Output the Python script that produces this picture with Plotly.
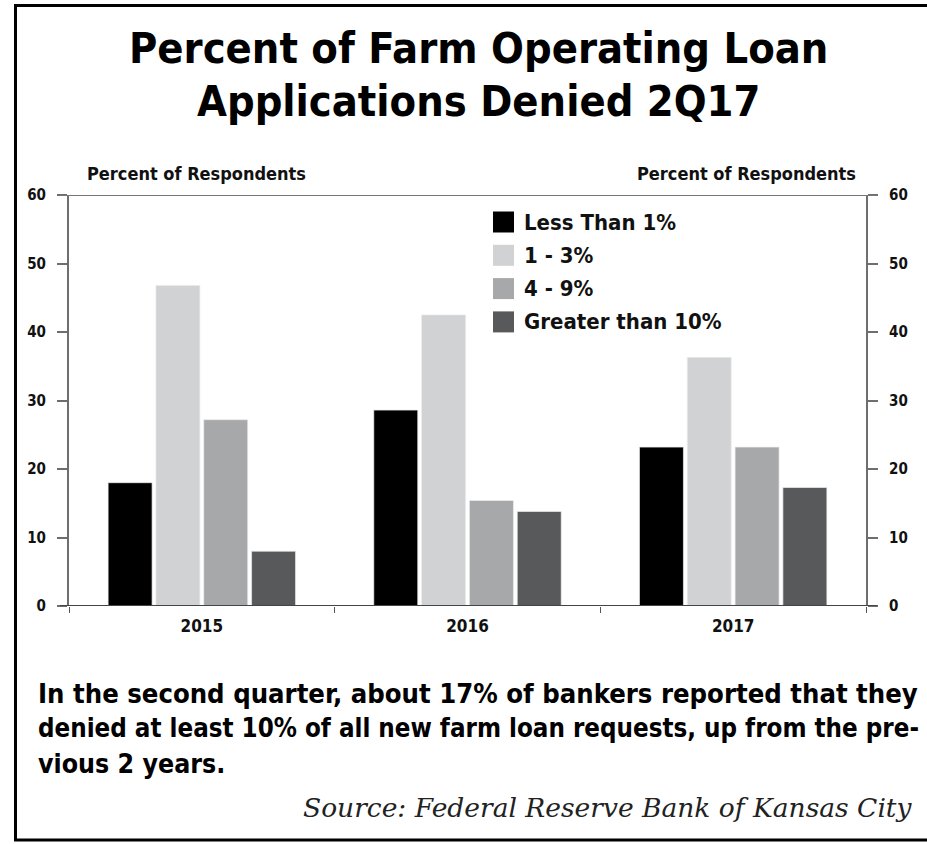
import plotly.graph_objects as go

# Survey results: share of bankers by percent of farm operating loan applications denied
years = ["2015", "2016", "2017"]
series_names = ["Less Than 1%", "1 - 3%", "4 - 9%", "Greater than 10%"]
less_than_1 = [18.0, 28.6, 23.2]
one_to_three = [46.8, 42.5, 36.3]
four_to_nine = [27.2, 15.4, 23.2]
greater_than_10 = [8.0, 13.8, 17.3]
series_values = [less_than_1, one_to_three, four_to_nine, greater_than_10]
y_ticks = [0, 10, 20, 30, 40, 50, 60]

colors = ["#000000", "#d1d2d4", "#a7a8aa", "#58595b"]
NARROW = "Liberation Sans Narrow, DejaVu Sans Condensed, Arial Narrow, sans-serif"
SERIF = "DejaVu Serif, Liberation Serif, serif"

W, H = 927, 844
L, R, T, B = 69, 61, 195, 238
PW, PH = W - L - R, H - T - B


def px(x):
    return (x - L) / PW


def py(y):
    return (H - B - y) / PH


fig = go.Figure()
for name, vals, col in zip(series_names, series_values, colors):
    fig.add_trace(go.Bar(
        x=years, y=vals, name=name, marker_color=col,
        marker_line_color="rgba(235,235,235,0.9)", marker_line_width=0.8,
        showlegend=False,
    ))
# carrier for the right-hand axis
fig.add_trace(go.Scatter(x=years, y=[None] * len(years), yaxis="y2",
                         showlegend=False, hoverinfo="skip"))

axis_common = dict(
    range=[0, 60], tickvals=y_ticks, ticks="outside", ticklen=10,
    tickwidth=1.5, tickcolor="#6d6e70", showline=True, linecolor="#6d6e70",
    linewidth=2, showgrid=False, zeroline=False,
    tickfont=dict(family=NARROW, size=15, color="#111", weight="bold"),
    ticklabelstandoff=8,
)

fig.update_layout(
    width=W, height=H,
    margin=dict(l=L, r=R, t=T, b=B),
    paper_bgcolor="white", plot_bgcolor="white",
    barmode="group", bargap=0.28, bargroupgap=0.08,
    xaxis=dict(
        type="category", tickson="boundaries", ticks="outside", ticklen=6,
        tickcolor="#555", showline=False, showgrid=False, zeroline=False,
        tickfont=dict(family=NARROW, size=17, color="#111", weight="bold"),
        ticklabelstandoff=8,
    ),
    yaxis=dict(**axis_common, side="left"),
    yaxis2=dict(**axis_common, side="right", overlaying="y"),
)

shapes = []
# baseline and top rule extending past both axes
for yv, col in [(0, "#444"), (60, "#777")]:
    shapes.append(dict(type="line", xref="paper", yref="y",
                       x0=px(60), x1=px(877), y0=yv, y1=yv,
                       line=dict(color=col, width=2)))
# outer frame
shapes.append(dict(type="rect", xref="paper", yref="paper",
                   x0=px(15.5), x1=px(940), y0=py(5.5), y1=py(840),
                   line=dict(color="black", width=3), fillcolor="rgba(0,0,0,0)",
                   layer="above"))

annotations = []
# legend drawn as swatches and labels
for i, (name, col) in enumerate(zip(series_names, colors)):
    cy = 222 + i * 33.3
    shapes.append(dict(type="rect", xref="paper", yref="paper",
                       x0=px(493), x1=px(514), y0=py(cy - 10.5), y1=py(cy + 10.5),
                       fillcolor=col, line=dict(width=0)))
    annotations.append(dict(xref="paper", yref="paper", x=px(522), y=py(cy),
                            xanchor="left", yanchor="middle", showarrow=False,
                            text=name,
                            font=dict(family=NARROW, size=22, color="#111", weight="bold")))

# title
for text, cy in [("Percent of Farm Operating Loan", 48), ("Applications Denied 2Q17", 101)]:
    annotations.append(dict(xref="paper", yref="paper", x=px(478), y=py(cy),
                            xanchor="center", yanchor="middle", showarrow=False,
                            text=text,
                            font=dict(family=NARROW, size=43, color="#000", weight=900)))

# axis captions
annotations.append(dict(xref="paper", yref="paper", x=px(85), y=py(173),
                        xanchor="left", yanchor="middle", showarrow=False,
                        text="Percent of Respondents",
                        font=dict(family=NARROW, size=18, color="#111", weight="bold")))
annotations.append(dict(xref="paper", yref="paper", x=px(858), y=py(173),
                        xanchor="right", yanchor="middle", showarrow=False,
                        text="Percent of Respondents",
                        font=dict(family=NARROW, size=18, color="#111", weight="bold")))

# commentary, sized per line so each line spans the text column
caption_lines = [
    ("In the second quarter, about 17% of bankers reported that they", 27.2),
    ("denied at least 10% of all new farm loan requests, up from the pre-", 25.7),
    ("vious 2 years.", 26.5),
]
for i, (line, size) in enumerate(caption_lines):
    annotations.append(dict(xref="paper", yref="paper", x=px(36), y=py(693 + i * 35),
                            xanchor="left", yanchor="middle", showarrow=False,
                            text=line,
                            font=dict(family=NARROW, size=size, color="#000", weight="bold")))

annotations.append(dict(xref="paper", yref="paper", x=px(915), y=py(807),
                        xanchor="right", yanchor="middle", showarrow=False,
                        text="Source: Federal Reserve Bank of Kansas City",
                        font=dict(family=SERIF, size=26.5, color="#222", style="italic")))

fig.update_layout(shapes=shapes, annotations=annotations)
fig.write_html("out.html")
